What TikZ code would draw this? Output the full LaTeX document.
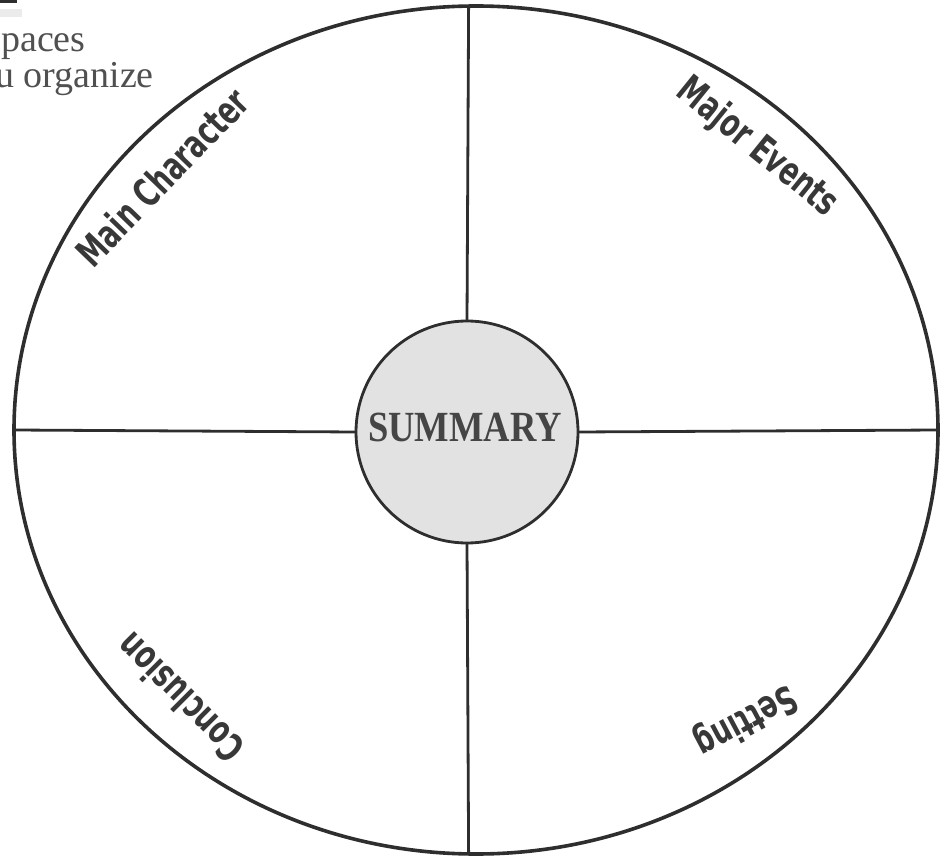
\documentclass[tikz,border=0pt]{standalone}
\usepackage{fontspec}
\newfontfamily\labelfont{DejaVu Sans}
\newfontfamily\sumfont{Liberation Serif}
\usetikzlibrary{shapes.geometric}
\definecolor{ink}{HTML}{2E2E2E}
\definecolor{lab}{HTML}{383838}
\definecolor{sumfill}{HTML}{E2E2E2}
\definecolor{sumtext}{HTML}{454545}
\definecolor{topink}{HTML}{505050}
\begin{document}
\begin{tikzpicture}[x=1pt,y=1pt,
  ring/.style={draw=ink, line width=3.6pt},
  divider/.style={draw=ink, line width=2.8pt},
  quadlabel/.style={text=lab, font=\labelfont\bfseries\fontsize{39}{39}\selectfont, inner sep=0pt},
  toptext/.style={anchor=base west, inner sep=0pt, text=topink, font=\sumfont\fontsize{38}{38}\selectfont}
]
\useasboundingbox (0,0) rectangle (944,855);
% scan fragments at top-left
\fill[ink] (0,852) rectangle (17,855);
\fill[black!8] (0,838) rectangle (22,846);
\node[toptext] (t1) at (1,803) {paces};
\node[toptext] (t2) at (-5,767) {u organize};
% outer wheel
\node[ellipse, ring, minimum width=924pt, minimum height=848pt, inner sep=0pt, outer sep=0pt] (outer) at (476,425) {};
% centre
\node[circle, draw=ink, line width=2.8pt, fill=sumfill, minimum size=222pt, inner sep=0pt, outer sep=0pt] (inner) at (467,423) {};
\node[text=sumtext, font=\sumfont\bfseries\fontsize{43}{43}\selectfont, inner sep=0pt] (sumlabel) at (465,428) {\scalebox{0.85}[1]{SUMMARY}};
% dividers
\draw[divider] (outer.91.5) -- (inner.north);
\draw[divider] (inner.south) -- (outer.269.7);
\draw[divider] (outer.180.7) -- (inner.west);
\draw[divider] (inner.east) -- (outer.0.3);
% quadrant labels
\node[quadlabel, rotate=46] (mainchar) at (162,678) {\scalebox{0.68}[1]{Main Character}};
\node[quadlabel, rotate=-39] (events) at (757,707) {\scalebox{0.68}[1]{Major Events}};
\node[quadlabel, rotate=135] (conclusion) at (180,157) {\scalebox{0.68}[1]{Conclusion}};
\node[quadlabel, rotate=208] (setting) at (745,135) {\scalebox{0.68}[1]{Setting}};
\end{tikzpicture}
\end{document}
